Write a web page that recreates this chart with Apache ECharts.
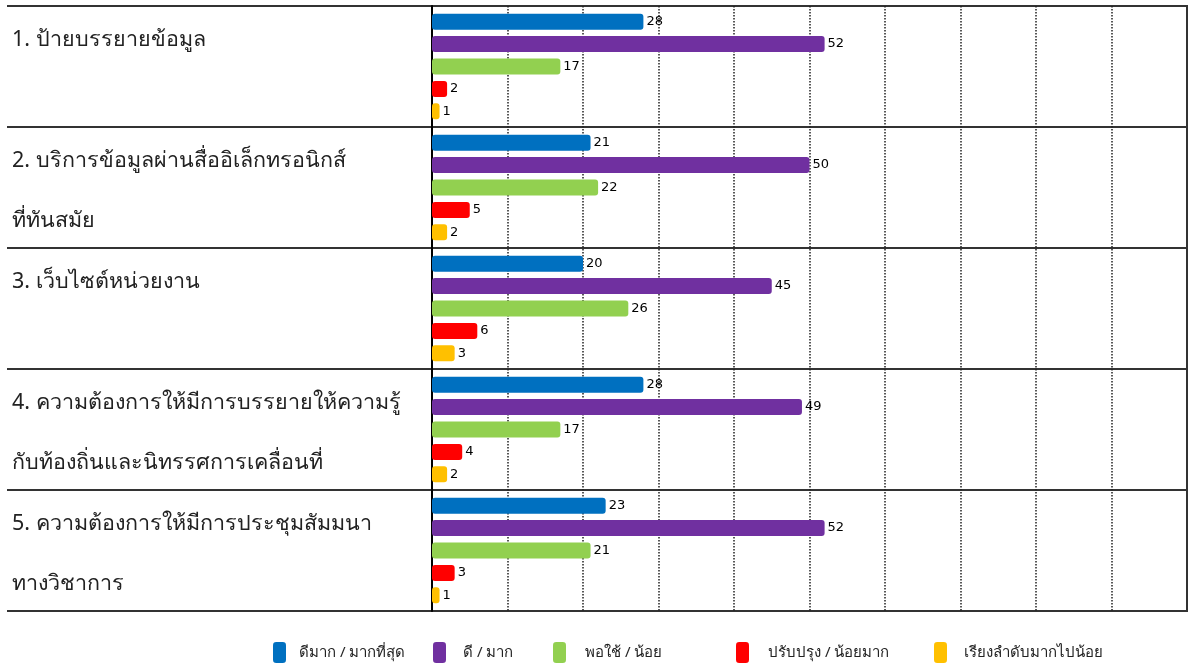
<!DOCTYPE html>
<html>
<head>
<meta charset="utf-8">
<script src="https://cdn.jsdelivr.net/npm/echarts@6/dist/echarts.min.js"></script>
<style>
html,body{margin:0;padding:0;background:#fff;}
#chart{width:1193px;height:666px;}
</style>
</head>
<body>
<div id="chart"></div>
<script>
const categories = [
  '1. ป้ายบรรยายข้อมูล',
  '2. บริการข้อมูลผ่านสื่ออิเล็กทรอนิกส์\nที่ทันสมัย',
  '3. เว็บไซต์หน่วยงาน',
  '4. ความต้องการให้มีการบรรยายให้ความรู้\nกับท้องถิ่นและนิทรรศการเคลื่อนที่',
  '5. ความต้องการให้มีการประชุมสัมมนา\nทางวิชาการ'
];
const seriesNames = ['ดีมาก / มากที่สุด', 'ดี / มาก', 'พอใช้ / น้อย', 'ปรับปรุง / น้อยมาก', 'เรียงลำดับมากไปน้อย'];
const veryGood = [28, 21, 20, 28, 23];
const good = [52, 50, 45, 49, 52];
const fair = [17, 22, 26, 17, 21];
const improve = [2, 5, 6, 4, 3];
const ranking = [1, 2, 3, 2, 1];
const xTickMax = 100;
const xTickStep = 10;

const seriesValues = [veryGood, good, fair, improve, ranking];
const colors = ['#0070C0', '#7030A0', '#92D050', '#FF0000', '#FFC000'];

const legendLefts = [273, 433, 553, 736, 934];
const legendGaps = [8, 12, 14, 14, 12];

const chart = echarts.init(document.getElementById('chart'));
const fontFamily = "Tahoma, 'Noto Sans', 'DejaVu Sans', sans-serif";

const option = {
  backgroundColor: '#fff',
  animation: false,
  grid: [
    { left: 7, right: 1193 - 432, top: 6, bottom: 666 - 611, show: false, containLabel: false, outerBoundsMode: 'none' },
    { left: 432, right: 6, top: 6, bottom: 666 - 611, show: true, borderColor: '#333', borderWidth: 2, containLabel: false, outerBoundsMode: 'none' }
  ],
  xAxis: [
    { type: 'value', gridIndex: 0, min: 0, max: 1, show: false },
    {
      type: 'value', gridIndex: 1, min: 0, max: xTickMax, interval: xTickStep,
      axisLabel: { show: false }, axisLine: { show: false }, axisTick: { show: false },
      splitLine: { show: true, showMinLine: false, showMaxLine: false, lineStyle: { color: '#222', width: 1.5, type: [1.5, 1.5] } }
    }
  ],
  yAxis: [
    {
      type: 'category', gridIndex: 0, data: categories, inverse: true,
      axisLine: { show: false }, axisTick: { show: false },
      splitLine: { show: true, interval: 0, lineStyle: { color: '#333', width: 2 } },
      axisLabel: {
        show: true, inside: true, interval: 0, margin: 5, align: 'left',
        fontSize: 21.5, lineHeight: 59.5, color: '#222', fontFamily: fontFamily,
        formatter: function (v) {
          const lines = v.split('\n');
          if (lines.length < 2) lines.push(' ');
          return '{sp| }\n' + lines.map(function (l) { return '{t|' + l + '}'; }).join('\n');
        },
        rich: {
          sp: { fontSize: 1, lineHeight: 7 },
          t: { fontSize: 21.5, lineHeight: 59.5, color: '#222', fontFamily: fontFamily }
        }
      }
    },
    {
      type: 'category', gridIndex: 1, data: categories, inverse: true,
      axisLabel: { show: false }, axisTick: { show: false },
      axisLine: { show: true, lineStyle: { color: '#000', width: 2 } },
      splitLine: { show: true, interval: 0, lineStyle: { color: '#333', width: 2 } }
    }
  ],
  legend: seriesNames.map(function (name, i) {
    return {
      data: [name], left: legendLefts[i], top: 642, padding: 0,
      itemWidth: 13, itemHeight: 21, icon: 'roundRect', selectedMode: false,
      textStyle: { fontSize: 15, color: '#222', fontFamily: fontFamily, padding: [0, 0, 0, legendGaps[i]] }
    };
  }),
  series: seriesNames.map(function (name, i) {
    return {
      name: name, type: 'bar', xAxisIndex: 1, yAxisIndex: 1,
      data: seriesValues[i],
      barWidth: 16, barGap: '40%',
      itemStyle: { color: colors[i], borderRadius: 3 },
      label: { show: true, position: 'right', distance: 3, color: '#000', fontSize: 13, fontFamily: "'DejaVu Sans', sans-serif" }
    };
  })
};
chart.setOption(option);
</script>
</body>
</html>
